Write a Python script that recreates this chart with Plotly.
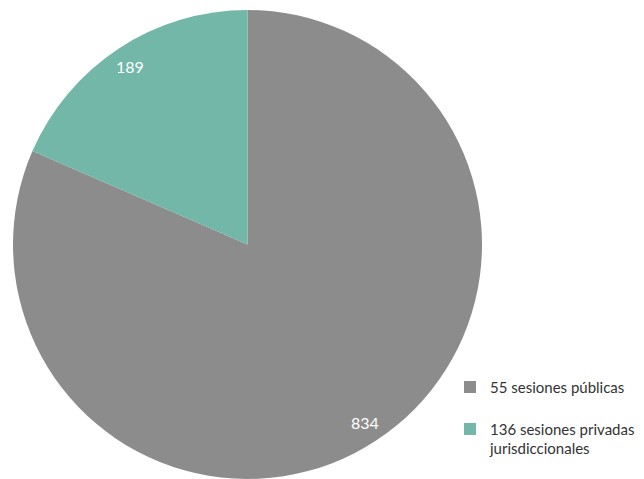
import math
import plotly.graph_objects as go

labels = ["55 sesiones públicas<br> ", "136 sesiones privadas<br>jurisdiccionales"]
values = [834, 189]
colors = ["#8c8c8c", "#72b7a8"]

# the page body adds an 8px margin, so the figure is 8px smaller than the window
W, H = 636, 471
cx_px, cy_px, r_px = 239.5, 236.5, 234.5  # pie center (from figure top-left) and radius

dom_x = [(cx_px - r_px) / W, (cx_px + r_px) / W]
dom_y = [max(0, (H - cy_px - r_px) / H), min(1, (H - cy_px + r_px) / H)]

fig = go.Figure(go.Pie(
    labels=labels, values=values, sort=False, direction="clockwise", rotation=0,
    marker=dict(colors=colors, line=dict(width=0)),
    textinfo="none", hoverinfo="label+value",
    domain=dict(x=dom_x, y=dom_y),
))

# data labels at each slice's mid angle, near the outer edge
total = sum(values)
cum = 0
annotations = []
for v in values:
    mid = (cum + v / 2) / total * 2 * math.pi
    cum += v
    dx = 0.91 * r_px * math.sin(mid)
    dy = 0.91 * r_px * math.cos(mid)
    annotations.append(dict(
        x=(cx_px + dx) / W, y=(H - cy_px + dy) / H, xref="paper", yref="paper",
        xanchor="center", yanchor="middle",
        text=str(v), showarrow=False, font=dict(color="white", size=16, family="Lato"),
    ))

fig.update_layout(
    width=W, height=H, margin=dict(l=0, r=0, t=0, b=0, autoexpand=False),
    paper_bgcolor="white", plot_bgcolor="white",
    font=dict(family="Lato", size=15, color="#333333"),
    annotations=annotations,
    legend=dict(x=0.695, y=0.23, xanchor="left", yanchor="top", valign="top",
                font=dict(size=15), itemwidth=30, traceorder="normal",
                bgcolor="rgba(0,0,0,0)"),
    showlegend=True,
)
fig.write_html("out.html")
